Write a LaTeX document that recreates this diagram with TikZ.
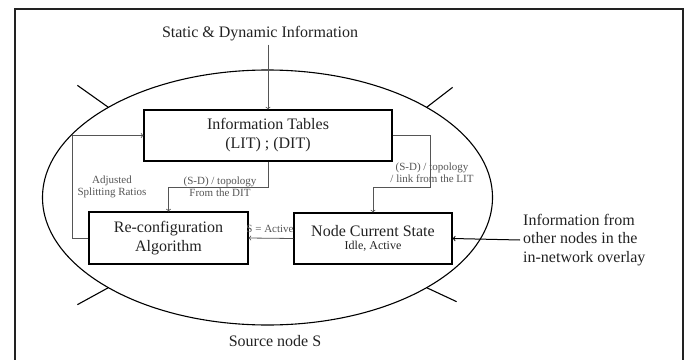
\documentclass[tikz,border=0pt]{standalone}
\usepackage{fontspec}
\setmainfont{Liberation Serif}
\usepackage{tikz}
\usetikzlibrary{positioning}
\usepackage{xcolor}
\definecolor{inkgray}{HTML}{222222}
\definecolor{wiregray}{HTML}{555555}

\begin{document}
\begin{tikzpicture}[x=1pt, y=-1pt,
  box/.style={draw=black, line width=1.1pt, align=center, text=inkgray, inner sep=0pt},
  big/.style={font=\fontsize{16}{19}\selectfont},
  small/.style={font=\fontsize{11}{12}\selectfont, text=wiregray, align=center, inner sep=0pt},
  wire/.style={draw=wiregray, line width=0.8pt},
  rim/.style={line width=1.1pt}]
				    		\useasboundingbox (0,0) rectangle (693,359);
				    		\draw[inkgray, line width=1.8pt] (15,362)--(15,9)--(683,9)--(683,362);
				    		\coordinate (hub) at (267.5,197.5);
				    		\draw[rim] (hub) ellipse [x radius=225pt, y radius=127.5pt];
				    		\draw[rim] ([shift={(hub)}]135:225pt and 127.5pt)--++(-31,-22);
				    		\draw[rim] ([shift={(hub)}]45:225pt and 127.5pt)--++(26,-20);
				    		\draw[rim] ([shift={(hub)}]225:225pt and 127.5pt)--++(-31,17);
				    		\draw[rim] ([shift={(hub)}]315:225pt and 127.5pt)--++(30,14);
				    		\node[box, big, minimum width=248pt, minimum height=51pt] (tables) at (268,135.5) {Information Tables\\(LIT) ; (DIT)};
				    		\node[box, big, minimum width=159pt, minimum height=52pt] (reconf) at (168.5,238) {Re-configuration\\Algorithm};
				    		\node[box, minimum width=158pt, minimum height=51pt] (state) at (373,238.5) {\fontsize{16}{18}\selectfont Node Current State\\[1pt]\fontsize{12}{14}\selectfont Idle, Active};
				    		\node[big, text=inkgray, inner sep=0pt] (static) at (260,34) {Static \& Dynamic Information};
				    		\node[big, text=inkgray, inner sep=0pt] (source) at (275,341) {Source node S};
				    		\node[big, text=inkgray, align=left, anchor=west, inner sep=3pt, font=\fontsize{16}{18.3}\selectfont] (others) at (520,240) {Information from\\other nodes in the\\in-network overlay};
				    		\draw[wire, ->] (static.south -| tables.north)++(0,3)--(tables.north);
				    		\draw[wire, ->] (reconf.west)--++(-16,0)|-(tables.west);
				    		\draw[wire, ->] (tables.south)--++(0,26)-|(reconf.north);
				    		\draw[wire, ->] (tables.east)--++(38,0)--++(0,52)-|(state.north);
				    		\draw[wire, ->] (state.west)--(reconf.east);
				    		\draw[line width=1pt, ->] (others.west)--(state.east);
				    		\node[small] (ratios) at (112,187) {Adjusted\\Splitting Ratios};
				    		\node[small] (fromdit) at (220,187) {(S-D) / topology\\From the DIT};
				    		\node[small] (fromlit) at (432,173) {(S-D) / topology\\/ link from the LIT};
				    		\node[small] (active) at (270,229) {S = Active};
				    	\end{tikzpicture}
\end{document}
